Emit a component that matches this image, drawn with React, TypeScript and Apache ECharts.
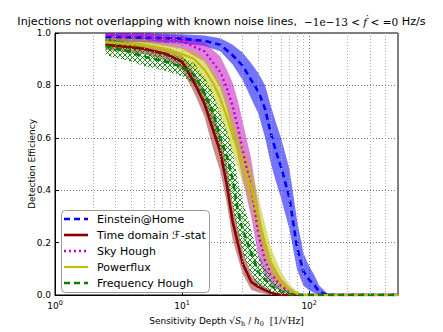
import React, { useEffect, useRef } from 'react';
import * as echarts from 'echarts';

// Einstein@Home
const ehX = [2.5, 5, 10, 15, 20, 25, 30, 35, 40, 45, 50, 55, 60, 70, 80, 90, 100, 110, 120, 140, 500];
const ehMean = [0.985, 0.983, 0.978, 0.97, 0.955, 0.915, 0.875, 0.82, 0.775, 0.71, 0.615, 0.545, 0.49, 0.37, 0.185, 0.09, 0.058, 0.038, 0.012, 0, 0];
const ehLow = [0.965, 0.965, 0.96, 0.95, 0.93, 0.88, 0.82, 0.75, 0.69, 0.6, 0.5, 0.43, 0.37, 0.25, 0.1, 0.035, 0.018, 0.008, 0, 0, 0];
const ehHigh = [1.0, 1.0, 0.995, 0.99, 0.98, 0.955, 0.925, 0.885, 0.845, 0.8, 0.72, 0.655, 0.6, 0.48, 0.29, 0.16, 0.11, 0.075, 0.035, 0.005, 0];

// Time domain F-stat
const tdX = [2.5, 5, 7.5, 10, 12.5, 15, 17.5, 20, 22.5, 25, 30, 35, 40, 50, 60, 500];
const tdMean = [0.955, 0.94, 0.92, 0.89, 0.81, 0.73, 0.63, 0.545, 0.42, 0.28, 0.12, 0.05, 0.03, 0.008, 0, 0];
const tdLow = [0.935, 0.92, 0.895, 0.86, 0.77, 0.68, 0.56, 0.47, 0.35, 0.21, 0.08, 0.02, 0.01, 0, 0, 0];
const tdHigh = [0.975, 0.96, 0.94, 0.915, 0.85, 0.78, 0.7, 0.61, 0.5, 0.35, 0.17, 0.08, 0.05, 0.015, 0.003, 0];

// Sky Hough
const shX = [2.5, 5, 10, 15, 20, 22.5, 25, 27.5, 30, 35, 40, 45, 50, 60, 70, 80, 90, 500];
const shMean = [0.99, 0.987, 0.968, 0.93, 0.85, 0.79, 0.72, 0.64, 0.55, 0.41, 0.23, 0.13, 0.08, 0.035, 0.012, 0.003, 0, 0];
const shLow = [0.97, 0.965, 0.94, 0.89, 0.79, 0.71, 0.62, 0.53, 0.44, 0.3, 0.14, 0.07, 0.04, 0.012, 0.002, 0, 0, 0];
const shHigh = [1.0, 1.0, 0.99, 0.965, 0.91, 0.86, 0.81, 0.74, 0.66, 0.52, 0.33, 0.2, 0.13, 0.065, 0.03, 0.01, 0.002, 0];

// Powerflux
const pfX = [2.5, 5, 7.5, 10, 12.5, 15, 17.5, 20, 22.5, 25, 30, 35, 40, 45, 50, 60, 70, 80, 90, 500];
const pfMean = [0.965, 0.955, 0.94, 0.92, 0.9, 0.86, 0.81, 0.75, 0.68, 0.61, 0.5, 0.41, 0.29, 0.2, 0.125, 0.05, 0.02, 0.005, 0, 0];
const pfLow = [0.945, 0.935, 0.915, 0.89, 0.86, 0.81, 0.75, 0.68, 0.61, 0.54, 0.43, 0.33, 0.21, 0.13, 0.07, 0.02, 0.005, 0, 0, 0];
const pfHigh = [0.985, 0.975, 0.96, 0.945, 0.93, 0.9, 0.86, 0.81, 0.75, 0.68, 0.57, 0.49, 0.37, 0.27, 0.18, 0.09, 0.04, 0.015, 0.003, 0];

// Frequency Hough
const fhX = [2.5, 3.75, 5, 7.5, 10, 12.5, 15, 17.5, 20, 22.5, 25, 27.5, 30, 35, 40, 50, 60, 70, 80, 500];
const fhMean = [0.95, 0.93, 0.91, 0.89, 0.87, 0.84, 0.77, 0.7, 0.6, 0.53, 0.44, 0.32, 0.25, 0.16, 0.085, 0.035, 0.013, 0.004, 0, 0];
const fhLow = [0.915, 0.895, 0.875, 0.855, 0.835, 0.8, 0.72, 0.63, 0.52, 0.44, 0.34, 0.23, 0.16, 0.08, 0.03, 0.008, 0.001, 0, 0, 0];
const fhHigh = [0.98, 0.965, 0.945, 0.925, 0.905, 0.885, 0.83, 0.77, 0.69, 0.63, 0.55, 0.44, 0.36, 0.25, 0.15, 0.07, 0.03, 0.012, 0.004, 0];

const legendNames = ['Einstein@Home', 'Time domain \u2131-stat', 'Sky Hough', 'Powerflux', 'Frequency Hough'];
const minorGrid = [2, 3, 4, 5, 6, 7, 8, 9, 20, 30, 40, 50, 60, 70, 80, 90, 200, 300, 400];

const FONT = 'DejaVu Sans';

const hatchSvg =
  "<svg xmlns='http://www.w3.org/2000/svg' width='5' height='5'>" +
  "<path d='M0,0L5,5M5,0L0,5' stroke='#008000' stroke-width='0.9'/></svg>";
const hatchUrl = 'data:image/svg+xml;charset=utf-8,' + encodeURIComponent(hatchSvg);

function band(name: string, xs: number[], lo: number[], hi: number[], fill: any) {
  return {
    type: 'custom',
    name,
    silent: true,
    clip: true,
    z: 2,
    data: [[xs[0], lo[0]]],
    renderItem: (_params: any, api: any) => {
      const pts: number[][] = [];
      for (let i = 0; i < xs.length; i++) pts.push(api.coord([xs[i], hi[i]]));
      for (let i = xs.length - 1; i >= 0; i--) pts.push(api.coord([xs[i], lo[i]]));
      return { type: 'polygon', shape: { points: pts }, style: { fill, stroke: null } };
    },
  };
}

function line(name: string, xs: number[], ys: number[], color: string, width: number, dash: any) {
  return {
    type: 'line',
    name,
    silent: true,
    z: 3,
    showSymbol: false,
    symbol: 'none',
    data: xs.map((x, i) => [x, ys[i]]),
    lineStyle: { color, width, type: dash },
  };
}

const colors = ['#0000ff', '#8b0000', '#c000c0', '#bfbf00', '#008000'];
const dashes: any[] = [[6, 4], 'solid', [2, 3], 'solid', [6, 4]];
const widths = [2.6, 2.6, 2.4, 2.2, 2.6];

function isDecade(v: number) {
  const l = Math.log10(v);
  return Math.abs(l - Math.round(l)) < 1e-6;
}

export default function App() {
  const ref = useRef<HTMLDivElement>(null);
  useEffect(() => {
    if (!ref.current) return;
    const chart = echarts.init(ref.current, undefined, { renderer: 'svg' });
    const legendY = [219, 235, 251, 267, 283];
    const graphic: any[] = [
      {
        type: 'rect',
        z: 100,
        shape: { x: 61.5, y: 210.5, width: 148, height: 82, r: 4 },
        style: { fill: '#fff', stroke: '#999', lineWidth: 1 },
      },
    ];
    legendNames.forEach((n, i) => {
      graphic.push({
        type: 'line',
        z: 101,
        shape: { x1: 64, y1: legendY[i], x2: 88, y2: legendY[i] },
        style: {
          stroke: colors[i],
          lineWidth: widths[i],
          lineDash: Array.isArray(dashes[i]) ? dashes[i] : null,
        },
      });
      graphic.push({
        type: 'text',
        z: 101,
        x: 97,
        y: legendY[i],
        style: { text: n, fontSize: 11, fontFamily: FONT, fill: '#000', verticalAlign: 'middle' },
      });
    });

    chart.setOption({
      animation: false,
      backgroundColor: '#fff',
      title: {
        text: '{a|Injections not overlapping with known noise lines,  }{m|\u22121e\u221213 < }{mi|\u1e1f}{m| < =0}{a| Hz/s}',
        left: 'center',
        top: 11,
        textStyle: {
          fontWeight: 'normal',
          rich: {
            a: { fontFamily: FONT, fontSize: 11.2, fontWeight: 'normal', color: '#000' },
            m: { fontFamily: 'DejaVu Serif', fontSize: 10.5, fontWeight: 'normal', color: '#000' },
            mi: { fontFamily: 'DejaVu Serif', fontStyle: 'italic', fontWeight: 'normal', fontSize: 10.5, color: '#000' },
          },
        },
      },
      grid: {
        left: 55,
        right: 45,
        top: 33,
        bottom: 35,
        show: true,
        borderColor: '#000',
        borderWidth: 1,
        backgroundColor: 'transparent',
      },
      xAxis: {
        type: 'log',
        logBase: 10,
        min: 1,
        max: 500,
        name: '{n|Sensitivity Depth }{m|\u221a}{mi|S}{sub|h}{m| / }{mi|h}{sub|0}{m|  [1/\u221aHz]}',
        nameLocation: 'middle',
        nameGap: 20,
        nameMoveOverlap: false,
        nameTextStyle: {
          rich: {
            n: { fontFamily: FONT, fontSize: 9, color: '#000' },
            m: { fontFamily: 'DejaVu Serif', fontSize: 9, color: '#000' },
            mi: { fontFamily: 'DejaVu Serif', fontStyle: 'italic', fontSize: 9, color: '#000' },
            sub: { fontFamily: 'DejaVu Serif', fontSize: 6.5, color: '#000', padding: [5, 0, 0, 0] },
          },
        },
        axisLine: { show: true, lineStyle: { color: '#000', width: 1 } },
        axisTick: { show: true, inside: true, length: 4, lineStyle: { color: '#000' } },
        axisLabel: {
          margin: 4,
          showMaxLabel: false,
          formatter: (v: number) => (isDecade(v) ? `{b|10}{s|${Math.round(Math.log10(v))}}` : ''),
          rich: {
            b: { fontFamily: FONT, fontSize: 9, color: '#000' },
            s: { fontFamily: FONT, fontSize: 6.5, color: '#000', padding: [0, 0, 6, 0] },
          },
        },
        splitLine: { show: true, lineStyle: { color: '#777', type: [1, 2], width: 1 } },
      },
      yAxis: {
        type: 'value',
        min: 0,
        max: 1,
        interval: 0.2,
        name: 'Detection Efficiency',
        nameLocation: 'middle',
        nameGap: 19,
        nameMoveOverlap: false,
        nameTextStyle: { fontFamily: FONT, fontSize: 9, color: '#000' },
        axisLine: { show: true, lineStyle: { color: '#000', width: 1 } },
        axisTick: { show: true, inside: true, length: 4, lineStyle: { color: '#000' } },
        axisLabel: {
          margin: 4,
          fontFamily: FONT,
          fontSize: 9,
          color: '#000',
          formatter: (v: number) => v.toFixed(1),
        },
        splitLine: { show: true, lineStyle: { color: '#777', type: [1, 2], width: 1 } },
      },
      series: [
        {
          type: 'line',
          name: 'minor-grid',
          silent: true,
          z: 1,
          data: [],
          markLine: {
            silent: true,
            symbol: ['none', 'none'],
            label: { show: false },
            lineStyle: { color: '#aaa', type: [1, 2], width: 1 },
            data: minorGrid.map((v) => ({ xAxis: v })),
          },
        },
        band('eh-band', ehX, ehLow, ehHigh, 'rgba(0,0,255,0.55)'),
        band('td-band', tdX, tdLow, tdHigh, 'rgba(139,0,0,0.45)'),
        band('sh-band', shX, shLow, shHigh, 'rgba(192,0,192,0.5)'),
        band('pf-band', pfX, pfLow, pfHigh, 'rgba(191,191,0,0.5)'),
        band('fh-band', fhX, fhLow, fhHigh, {
          image: hatchUrl,
          repeat: 'repeat',
          imageWidth: 5,
          imageHeight: 5,
        }),
        line(legendNames[0], ehX, ehMean, colors[0], widths[0], dashes[0]),
        line(legendNames[1], tdX, tdMean, colors[1], widths[1], dashes[1]),
        line(legendNames[2], shX, shMean, colors[2], widths[2], dashes[2]),
        line(legendNames[3], pfX, pfMean, colors[3], widths[3], dashes[3]),
        line(legendNames[4], fhX, fhMean, colors[4], widths[4], dashes[4]),
      ],
      graphic,
    });
    return () => chart.dispose();
  }, []);
  return (
    <div
      ref={ref}
      style={{ position: 'fixed', left: 0, top: 0, width: 443, height: 332, background: '#fff' }}
    />
  );
}
